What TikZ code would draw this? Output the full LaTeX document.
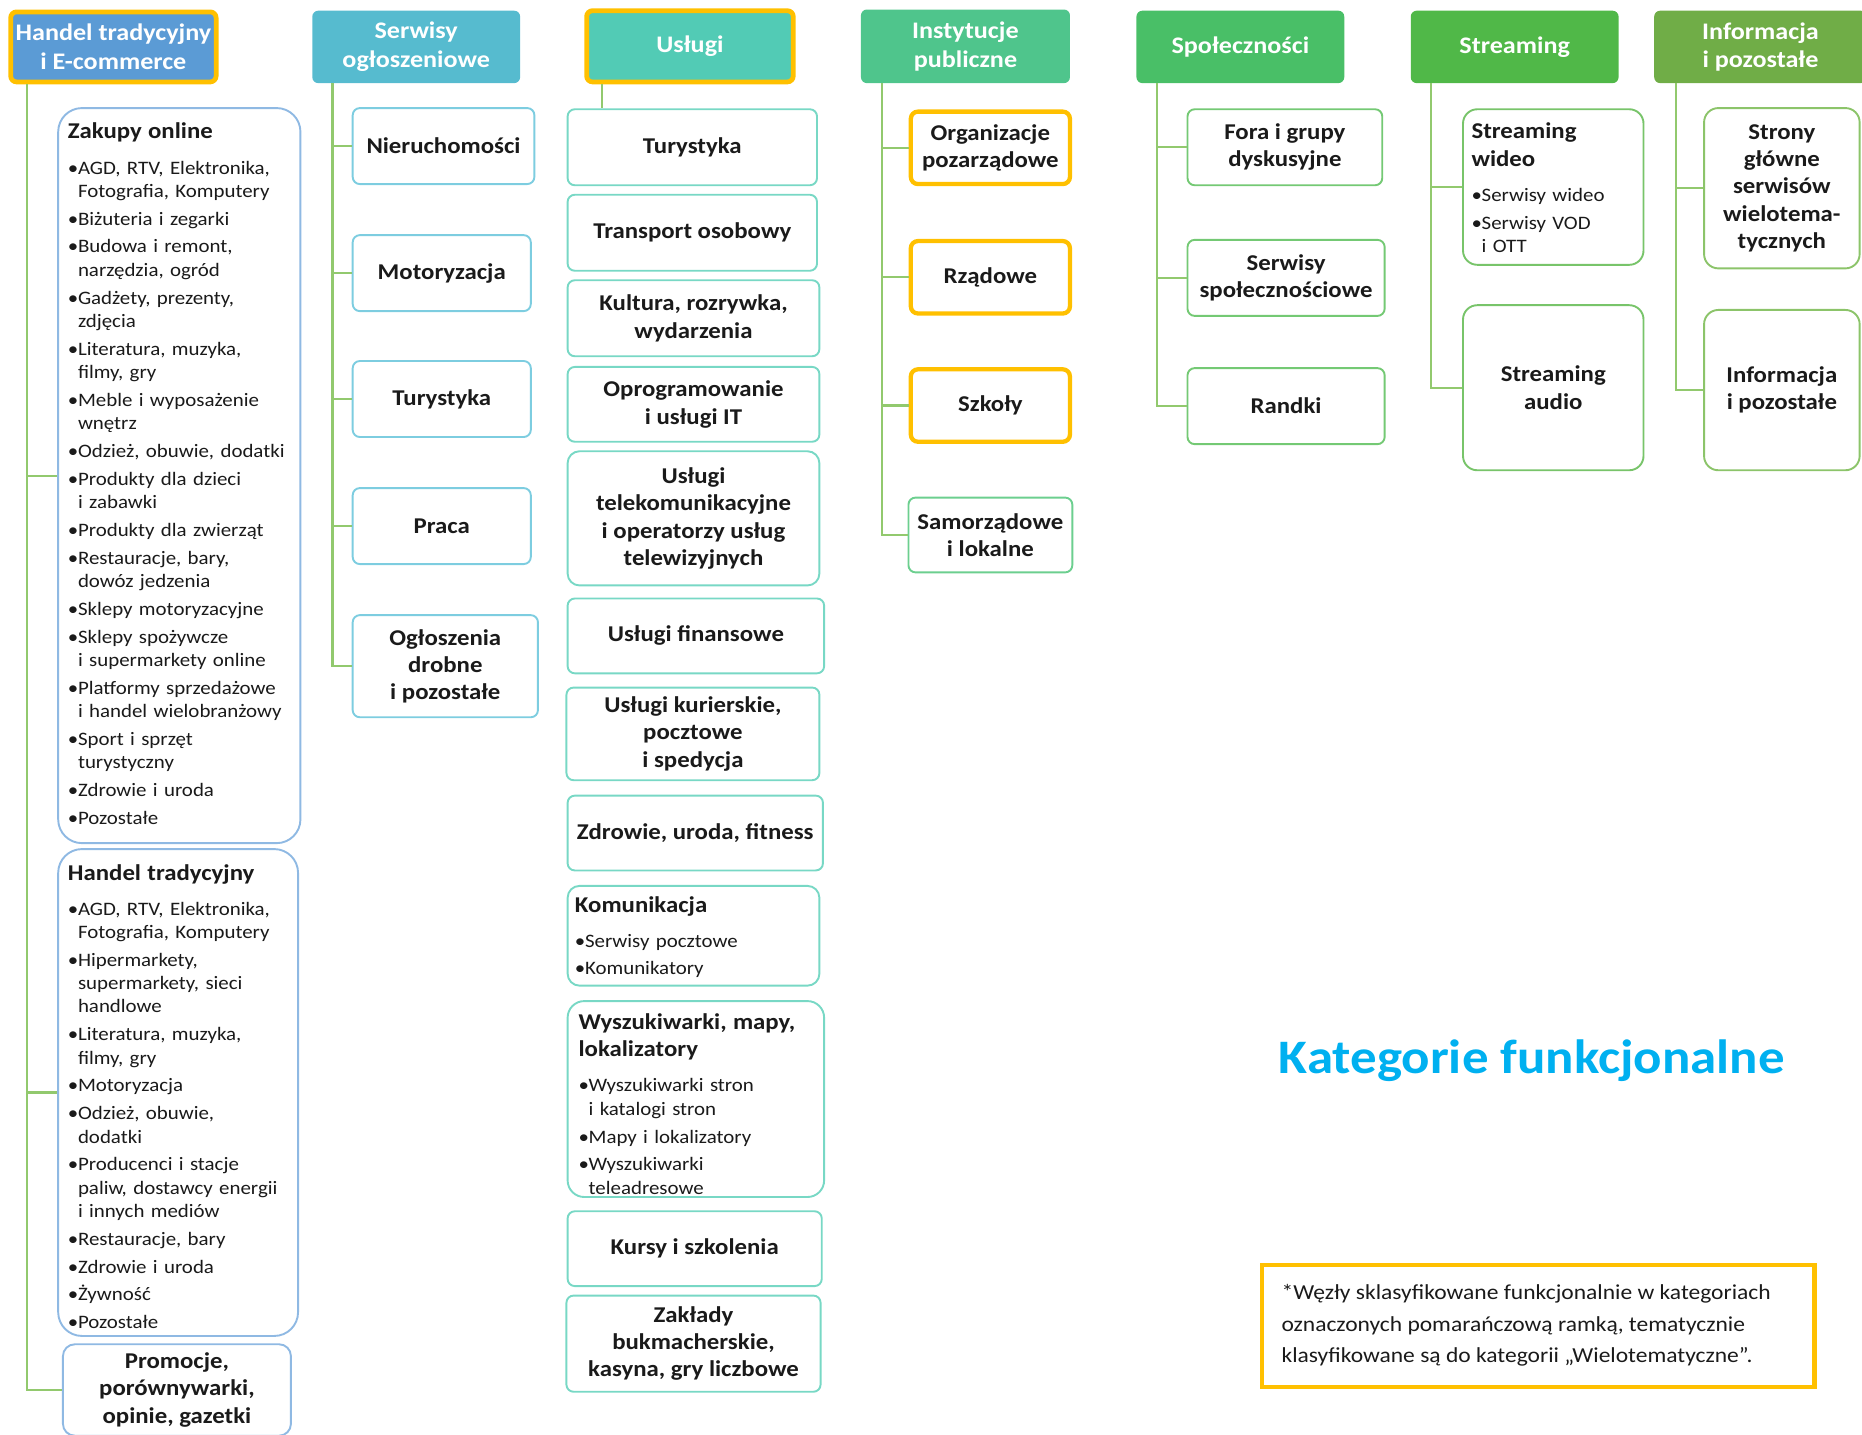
\documentclass[tikz,border=0pt]{standalone}
\usepackage{fontspec}
\setmainfont{Carlito}[FakeStretch=1.1]
\definecolor{txt}{HTML}{1A1A1A}
\definecolor{orng}{HTML}{FFC000}
\definecolor{conncol}{HTML}{92C96E}
\definecolor{hA}{HTML}{5B9BD5}
\definecolor{hB}{HTML}{56BBCF}
\definecolor{hC}{HTML}{52CBB5}
\definecolor{hD}{HTML}{4FC58C}
\definecolor{hE}{HTML}{49BF67}
\definecolor{hF}{HTML}{50B848}
\definecolor{hG}{HTML}{70AD47}
\definecolor{bA}{HTML}{8FB9E3}
\definecolor{bB}{HTML}{7DCDE0}
\definecolor{bC}{HTML}{78D8C5}
\definecolor{bD}{HTML}{6CCF8F}
\definecolor{bE}{HTML}{74C974}
\definecolor{bF}{HTML}{78C46A}
\definecolor{bG}{HTML}{8CC46A}
\definecolor{ttl}{HTML}{00B0F0}
\newcommand\mybox[7]{\node[#1, minimum width={(#5)-(#3)}, minimum height={(#6)-(#4)}] (#2) at ({((#3)+(#5))/2},{((#4)+(#6))/2}) {#7};}
\newcommand\nl{\hfil\break}
\newcommand\bl[1]{\par\hangindent=8.5pt\hangafter=1\noindent\hbox to 8.5pt{\textbullet\hss}#1}
\newcommand\titl[1]{{\fontsize{19}{23}\selectfont\bfseries #1\par}\vspace{6pt}}
\tikzset{
  hdr/.style={rounded corners=5pt, text=white, align=center, inner sep=0pt,
    font=\fontsize{20}{24}\selectfont\bfseries},
  hdro/.style={hdr, draw=orng, line width=4pt},
  lbl/.style={draw, line width=1.6pt, rounded corners=6pt, fill=white, align=center,
    inner sep=0pt, text=txt, font=\fontsize{19}{23}\selectfont\bfseries},
  lblo/.style={lbl, draw=orng, line width=3.6pt},
  lst/.style={anchor=north west, inner sep=0pt, text width=225pt, align=left, text=txt,
    font=\fontsize{16}{19.5}\selectfont\setlength{\parskip}{4pt}},
  conn/.style={draw=conncol, line width=1.8pt},
}
\begin{document}
\begin{tikzpicture}[x=1pt,y=-1pt]
\useasboundingbox (0,0) rectangle (1568,1208);
% ---- headers
\mybox{hdro, fill=hA}{h1}{9}{10}{182}{69}{Handel tradycyjny\\i E-commerce}
\mybox{hdr, fill=hB}{h2}{263}{9}{438}{70}{Serwisy\\ogłoszeniowe}
\mybox{hdro, fill=hC}{h3}{494}{9}{668}{69}{\raisebox{-2pt}{Usługi}}
\mybox{hdr, fill=hD}{h4}{725}{8}{901}{70}{Instytucje\\publiczne}
\mybox{hdr, fill=hE}{h5}{957}{9}{1132}{70}{\raisebox{-1.5pt}{Społeczności}}
\mybox{hdr, fill=hF}{h6}{1188}{9}{1363}{70}{\raisebox{-1.5pt}{Streaming}}
\mybox{hdr, fill=hG}{h7}{1393}{9}{1572}{70}{Informacja\\i pozostałe}
% ---- trunk x positions
\coordinate (t1) at (23,0);
\coordinate (t2) at (280,0);
\coordinate (t3) at (507,0);
\coordinate (t4) at (743,0);
\coordinate (t5) at (974,0);
\coordinate (t6) at (1205,0);
\coordinate (t7) at (1411,0);
% ---- column 1
\mybox{lbl, draw=bA, rounded corners=20pt}{z1}{49}{91}{253}{710}{}
\mybox{lbl, draw=bA, rounded corners=20pt}{z2}{49}{715}{251}{1125}{}
\mybox{lbl, draw=bA, rounded corners=10pt}{z3}{53}{1132}{245}{1209}{Promocje,\\porównywarki,\\opinie, gazetki}
\node[lst] (z1t) at (57,103.5) {\titl{Zakupy online}%
\bl{AGD, RTV, Elektronika,\nl Fotografia, Komputery}%
\bl{Biżuteria i zegarki}%
\bl{Budowa i remont,\nl narzędzia, ogród}%
\bl{Gadżety, prezenty,\nl zdjęcia}%
\bl{Literatura, muzyka,\nl filmy, gry}%
\bl{Meble i wyposażenie\nl wnętrz}%
\bl{Odzież, obuwie, dodatki}%
\bl{Produkty dla dzieci\nl i zabawki}%
\bl{Produkty dla zwierząt}%
\bl{Restauracje, bary,\nl dowóz jedzenia}%
\bl{Sklepy motoryzacyjne}%
\bl{Sklepy spożywcze\nl i supermarkety online}%
\bl{Platformy sprzedażowe\nl i handel wielobranżowy}%
\bl{Sport i sprzęt\nl turystyczny}%
\bl{Zdrowie i uroda}%
\bl{Pozostałe}\par};
\node[lst] (z2t) at (57,728) {\titl{Handel tradycyjny}%
\bl{AGD, RTV, Elektronika,\nl Fotografia, Komputery}%
\bl{Hipermarkety,\nl supermarkety, sieci\nl handlowe}%
\bl{Literatura, muzyka,\nl filmy, gry}%
\bl{Motoryzacja}%
\bl{Odzież, obuwie,\nl dodatki}%
\bl{Producenci i stacje\nl paliw, dostawcy energii\nl i innych mediów}%
\bl{Restauracje, bary}%
\bl{Zdrowie i uroda}%
\bl{Żywność}%
\bl{Pozostałe}\par};
\draw[conn] (h1.south -| t1) |- (z1.west);
\draw[conn] (h1.south -| t1) |- (z2.west);
\draw[conn] (h1.south -| t1) |- (z3.west);
% ---- column 2
\mybox{lbl, draw=bB}{n1}{297}{91}{450}{155}{Nieruchomości}
\mybox{lbl, draw=bB}{n2}{297}{198}{447}{262}{Motoryzacja}
\mybox{lbl, draw=bB}{n3}{297}{304}{447}{368}{Turystyka}
\mybox{lbl, draw=bB}{n4}{297}{411}{447}{475}{Praca}
\mybox{lbl, draw=bB}{n5}{297}{518}{453}{604}{Ogłoszenia\\drobne\\i pozostałe}
\foreach \c in {n1,n2,n3,n4,n5} \draw[conn] (h2.south -| t2) |- (\c.west);
% ---- column 3
\mybox{lbl, draw=bC}{u1}{478}{92}{688}{156}{Turystyka}
\mybox{lbl, draw=bC}{u2}{478}{164}{688}{228}{Transport osobowy}
\mybox{lbl, draw=bC}{u3}{478}{236}{690}{300}{Kultura, rozrywka,\\wydarzenia}
\mybox{lbl, draw=bC}{u4}{478}{309}{690}{372}{Oprogramowanie\\i usługi IT}
\mybox{lbl, draw=bC, rounded corners=10pt}{u5}{478}{380}{690}{493}{Usługi\\telekomunikacyjne\\i operatorzy usług\\telewizyjnych}
\mybox{lbl, draw=bC}{u6}{478}{504}{694}{567}{Usługi finansowe}
\mybox{lbl, draw=bC}{u7}{477}{579}{690}{657}{Usługi kurierskie,\\pocztowe\\i spedycja}
\mybox{lbl, draw=bC}{u8}{478}{670}{693}{733}{Zdrowie, uroda, fitness}
\mybox{lbl, draw=bC, rounded corners=10pt}{u9}{478}{746}{690}{830}{}
\mybox{lbl, draw=bC, rounded corners=14pt}{u10}{478}{843}{694}{1008}{}
\mybox{lbl, draw=bC}{u11}{478}{1020}{692}{1083}{Kursy i szkolenia}
\mybox{lbl, draw=bC}{u12}{477}{1091}{691}{1172}{Zakłady\\bukmacherskie,\\kasyna, gry liczbowe}
\node[lst] (u9t) at (484,754.5) {\titl{Komunikacja}%
\bl{Serwisy pocztowe}%
\bl{Komunikatory}\par};
\node[lst] (u10t) at (487,853.5) {\titl{Wyszukiwarki, mapy,\nl lokalizatory}%
\bl{Wyszukiwarki stron\nl i katalogi stron}%
\bl{Mapy i lokalizatory}%
\bl{Wyszukiwarki\nl teleadresowe}\par};
\draw[conn] (h3.south -| t3) -- (u1.north -| t3);
% ---- column 4
\mybox{lblo}{o1}{767}{94}{901}{155}{Organizacje\\pozarządowe}
\mybox{lblo}{o2}{767}{203}{901}{264}{Rządowe}
\mybox{lblo}{o3}{767}{311}{901}{372}{Szkoły}
\mybox{lbl, draw=bD}{o4}{765}{419}{903}{482}{Samorządowe\\i lokalne}
\foreach \c in {o1,o2,o3,o4} \draw[conn] (h4.south -| t4) |- (\c.west);
% ---- column 5
\mybox{lbl, draw=bE}{s1}{1000}{92}{1164}{156}{Fora i grupy\\dyskusyjne}
\mybox{lbl, draw=bE}{s2}{1000}{202}{1166}{266}{Serwisy\\społecznościowe}
\mybox{lbl, draw=bE}{s3}{1000}{310}{1166}{374}{Randki}
\foreach \c in {s1,s2,s3} \draw[conn] (h5.south -| t5) |- (\c.west);
% ---- column 6
\mybox{lbl, draw=bF, rounded corners=12pt}{v1}{1232}{92}{1384}{223}{}
\mybox{lbl, draw=bF, rounded corners=12pt}{v2}{1232}{257}{1384}{396}{Streaming\\audio}
\node[lst] (v1t) at (1239,103.5) {\titl{Streaming\nl wideo}%
\bl{Serwisy wideo}%
\bl{Serwisy VOD\nl i OTT}\par};
\foreach \c in {v1,v2} \draw[conn] (h6.south -| t6) |- (\c.west);
% ---- column 7
\mybox{lbl, draw=bG, rounded corners=12pt}{w1}{1435}{91}{1566}{226}{Strony\\główne\\serwisów\\wielotema-\\tycznych}
\mybox{lbl, draw=bG, rounded corners=12pt}{w2}{1435}{261}{1566}{396}{Informacja\\i pozostałe}
\foreach \c in {w1,w2} \draw[conn] (h7.south -| t7) |- (\c.west);
% ---- title and note
\node[text=ttl, font=\fontsize{40.5}{46}\selectfont\bfseries] (title) at (1290,893) {Kategorie funkcjonalne};
\mybox{draw=orng, line width=3.6pt, inner sep=0pt}{note}{1063}{1065}{1528}{1168}{}
\node[anchor=west, align=left, inner sep=0pt, text=txt, font=\fontsize{18}{26.5}\selectfont] (notet) at (1079,1116)
  {*Węzły sklasyfikowane funkcjonalnie w kategoriach\\oznaczonych pomarańczową ramką, tematycznie\\klasyfikowane są do kategorii „Wielotematyczne”.};
\end{tikzpicture}
\end{document}
